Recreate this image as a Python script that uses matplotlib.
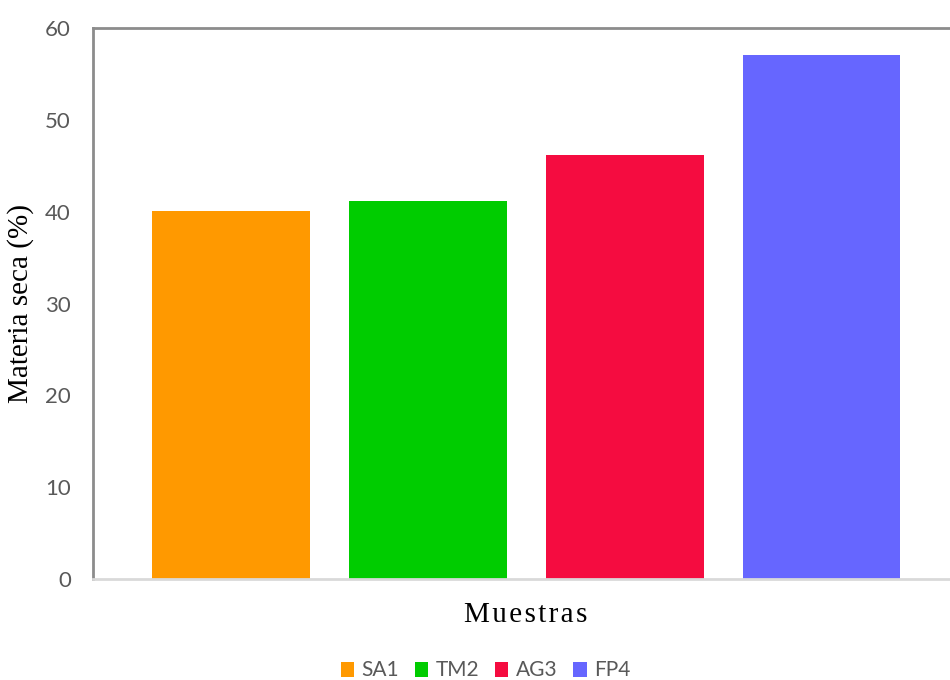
import matplotlib.pyplot as plt
from matplotlib.patches import Patch

muestras = ["SA1", "TM2", "AG3", "FP4"]
materia_seca = [40.1, 41.2, 46.2, 57.1]
colores = ["#FF9900", "#00CC00", "#F50C40", "#6666FF"]
yticks = [0, 10, 20, 30, 40, 50, 60]

fig = plt.figure(figsize=(9.5, 6.8), dpi=100)
ax = fig.add_axes([0.098, 0.1485, 0.91, 0.8103])

x = range(len(muestras))
ax.bar(x, materia_seca, width=0.8, color=colores)

ax.set_xlim(-0.70, 3.69)
ax.set_ylim(0, 60)
ax.set_yticks(yticks)
ax.set_xticks([])
ax.tick_params(axis="y", length=0, pad=16, labelsize=16, labelcolor="#595959")
for lab in ax.get_yticklabels():
    lab.set_family("Lato")

ax.spines["right"].set_visible(False)
for side in ("top", "left"):
    ax.spines[side].set_color("#8c8c8c")
    ax.spines[side].set_linewidth(2)
ax.spines["bottom"].set_color("#d9d9d9")
ax.spines["bottom"].set_linewidth(2)

ax.set_ylabel("Materia seca (%)", family="Liberation Serif", fontsize=21,
              color="black", labelpad=8)
fig.text(0.553, 0.095, "\u200a".join("Muestras"), family="Liberation Serif",
         fontsize=21, ha="center", va="center", color="black")

handles = [Patch(facecolor=c, edgecolor="none") for c in colores]
leg = fig.legend(handles, muestras, loc="center", bbox_to_anchor=(0.511, 0.014),
                 ncol=4, frameon=False, handlelength=0.65, handleheight=0.75,
                 handletextpad=0.35, columnspacing=0.75,
                 prop={"family": "Lato", "size": 15})
for t in leg.get_texts():
    t.set_color("#595959")

fig.savefig("out.png", dpi=100)
